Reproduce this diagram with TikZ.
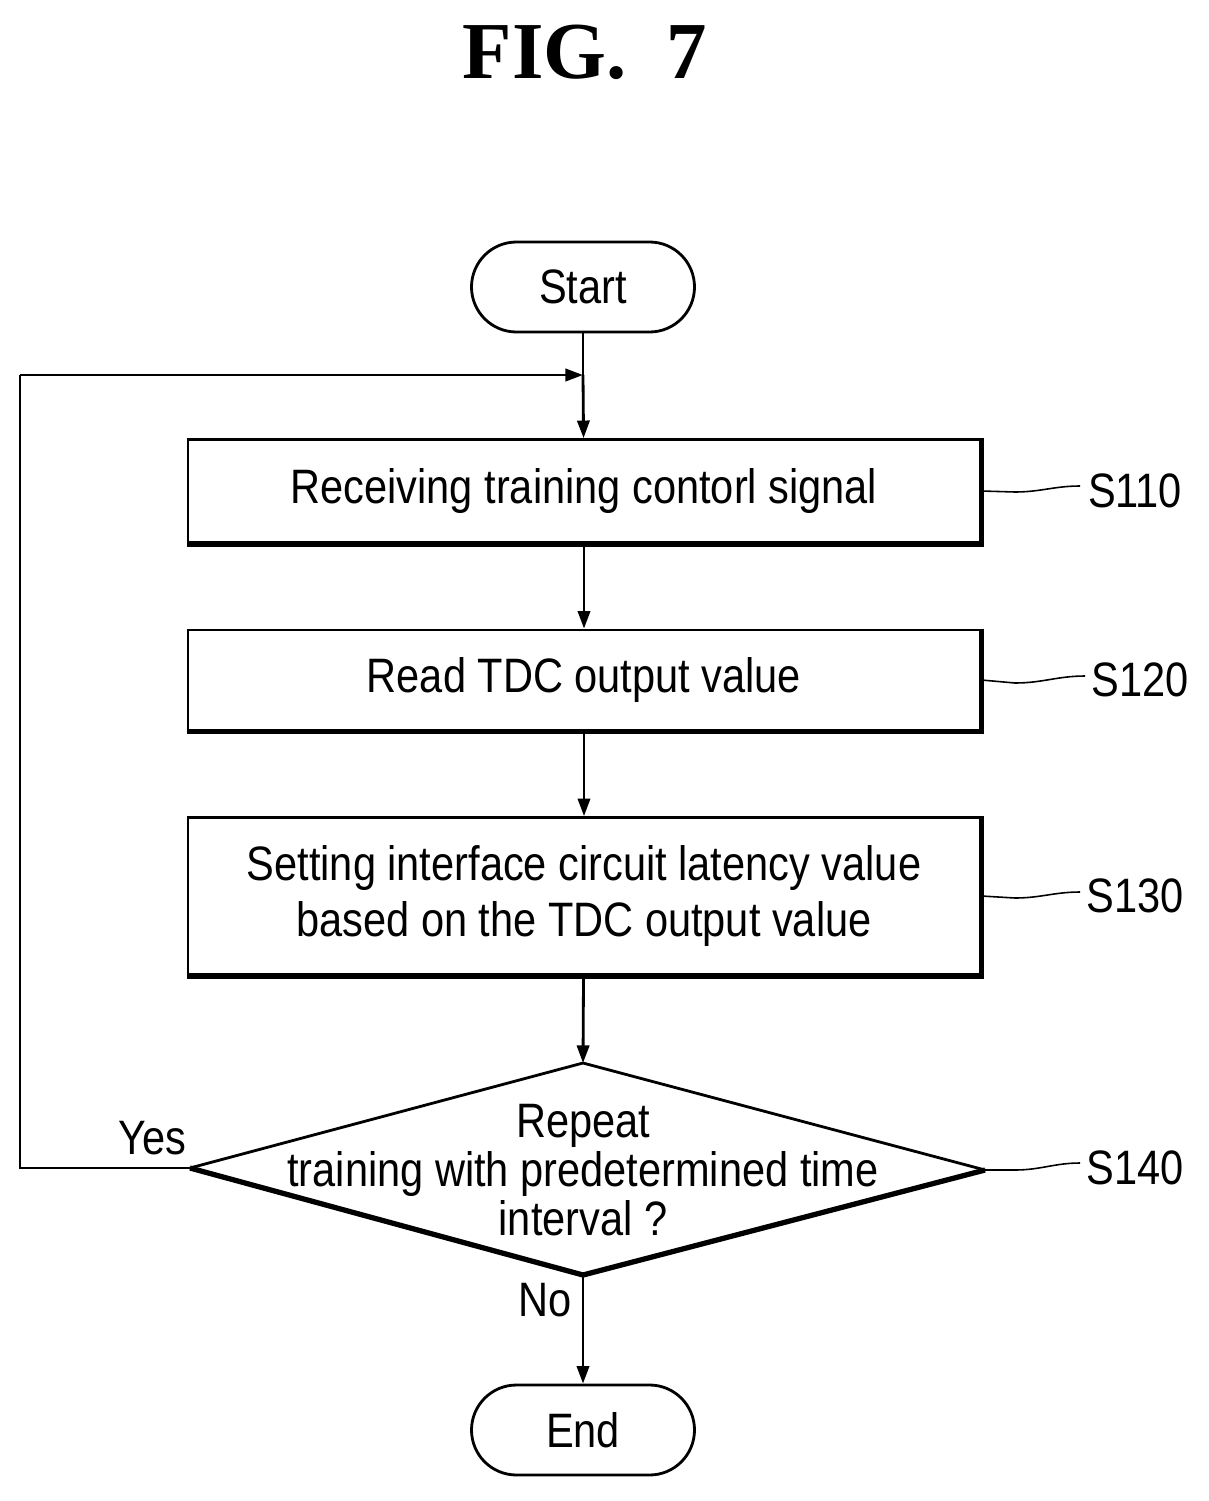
\documentclass[tikz,border=0pt]{standalone}
\usepackage{fontspec}
\setmainfont{Liberation Sans}[FakeStretch=0.86]
\newfontfamily\titlefont{Liberation Serif}
\usetikzlibrary{arrows.meta}
\begin{document}
\begin{tikzpicture}[x=0.02cm,y=-0.02cm,
  every node/.style={font=\fontsize{27.5}{32}\selectfont},
  box/.style={draw,line width=1.6pt,minimum width=792*0.02cm,align=center,inner sep=0},
  term/.style={draw,line width=1.6pt,rounded corners=0.9cm,minimum width=223*0.02cm,minimum height=90*0.02cm},
  line/.style={line width=1.6pt},
  arr/.style={line,-{Triangle[length=10pt,width=7pt]}},
  lead/.style={line width=0.9pt}]
\useasboundingbox (0,0) rectangle (1208,1501);
\node[font=\titlefont\bfseries\fontsize{46}{50}\selectfont] (title) at (585,52) {FIG.\ \ 7};
\node[term] (start) at (583,287) {Start};
\node[box,minimum height=103*0.02cm] (s110) at (584,491) {Receiving training contorl signal};
\node[box,minimum height=100*0.02cm] (s120) at (584,680) {Read TDC output value};
\node[box,minimum height=157*0.02cm] (s130) at (584,896) {Setting interface circuit latency value\\based on the TDC output value};
\coordinate (dt) at (583,1063); \coordinate (dr) at (985,1170);
\coordinate (db) at (583,1275); \coordinate (dl) at (190,1168);
\draw[line] (dl) -- (dt) -- (dr);
\draw[line width=3pt] (dr) -- (db) -- (dl);
\node[align=center] (s140) at (583,1170) {Repeat\\[-4pt]training with predetermined time\\[-4pt]interval ?};
\node[term] (end) at (583,1430) {End};
\foreach \n in {s110,s120,s130}{
  \draw[line width=3pt] (\n.north east) -- (\n.south east) -- (\n.south west);}
\coordinate (j) at (583,375);
\coordinate (c1) at (20,1168); \coordinate (c2) at (20,375);
\draw[line] (start) -- (j);
\draw[arr] (j) -- (s110);
\draw[arr] (s110) -- (s120);
\draw[arr] (s120) -- (s130);
\draw[arr] (s130) -- (dt);
\draw[arr] (db) -- (end);
\draw[line] (dl) -- (c1) -- (c2);
\draw[arr] (c2) -- (j);
\node (yes) at (152,1138) {Yes};
\node (no) at (545,1300) {No};
\node (l1) at (1135,491) {S110};
\node (l2) at (1140,680) {S120};
\node (l3) at (1135,896) {S130};
\node (l4) at (1135,1168) {S140};
\draw[lead] (s110.east) -- (1015,492) to[out=0,in=180] (1080,486);
\draw[lead] (s120.east) -- (1015,683) to[out=0,in=180] (1085,676);
\draw[lead] (s130.east) -- (1015,898) to[out=0,in=180] (1080,892);
\draw[lead] (dr) -- (1015,1170) to[out=0,in=180] (1080,1163);
\end{tikzpicture}
\end{document}
